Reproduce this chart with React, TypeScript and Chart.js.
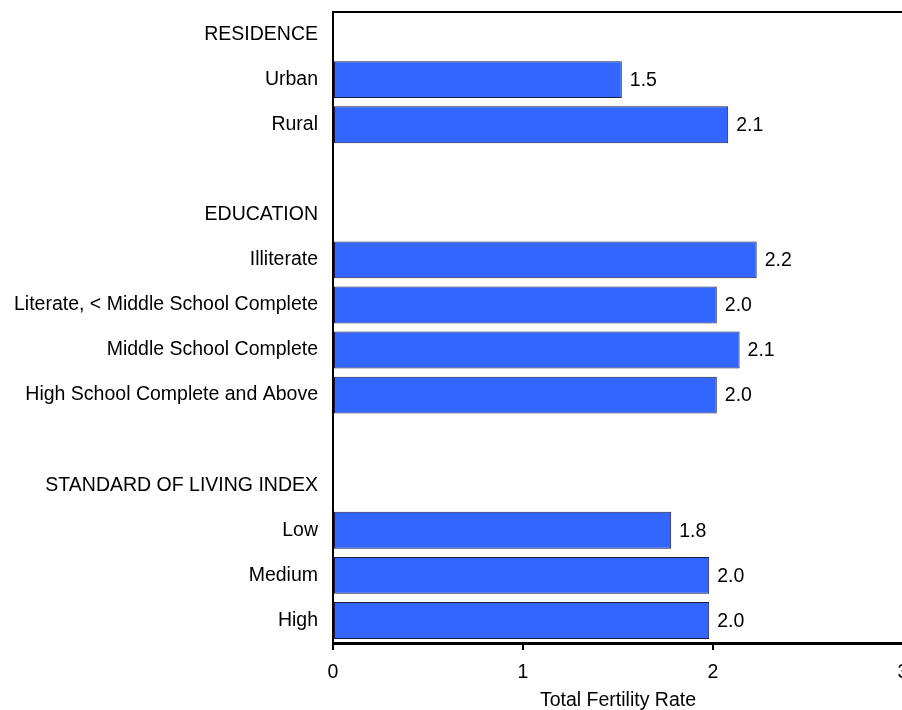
import React, { useEffect, useRef } from 'react';
import { Chart, registerables } from 'chart.js';

Chart.register(...registerables);

const categories = [
  'RESIDENCE',
  'Urban',
  'Rural',
  '',
  'EDUCATION',
  'Illiterate',
  'Literate, < Middle School Complete',
  'Middle School Complete',
  'High School Complete and Above',
  '',
  'STANDARD OF LIVING INDEX',
  'Low',
  'Medium',
  'High',
];
const tfrValues: (number | null)[] = [null, 1.52, 2.08, null, null, 2.23, 2.02, 2.14, 2.02, null, null, 1.78, 1.98, 1.98];
const xTickValues = [0, 1, 2, 3];
const axisTitle = 'Total Fertility Rate';

const FONT = '"Liberation Sans", Arial, Helvetica, sans-serif';
const FS = 19.5;

const valueLabelPlugin = {
  id: 'valueLabels',
  afterDatasetsDraw(chart: any) {
    const ctx = chart.ctx;
    const meta = chart.getDatasetMeta(0);
    ctx.save();
    ctx.font = `${FS}px ${FONT}`;
    ctx.fillStyle = '#000';
    ctx.textAlign = 'left';
    ctx.textBaseline = 'middle';
    meta.data.forEach((bar: any, i: number) => {
      const v = tfrValues[i];
      if (v === null || v === undefined) return;
      ctx.fillText(v.toFixed(1), bar.x + 8, bar.y + 1);
    });
    ctx.restore();
  },
};

const topLinePlugin = {
  id: 'topLine',
  afterDraw(chart: any) {
    const { ctx, chartArea } = chart;
    ctx.save();
    ctx.strokeStyle = '#000';
    ctx.lineWidth = 2;
    ctx.beginPath();
    ctx.moveTo(chartArea.left - 1, chartArea.top);
    ctx.lineTo(chart.width, chartArea.top);
    ctx.stroke();
    ctx.restore();
  },
};

export default function App() {
  const canvasRef = useRef<HTMLCanvasElement | null>(null);

  useEffect(() => {
    if (!canvasRef.current) return;
    const chart = new Chart(canvasRef.current, {
      type: 'bar',
      data: {
        labels: categories,
        datasets: [
          {
            data: tfrValues as any,
            backgroundColor: '#3366ff',
            borderColor: '#1c1c40',
            borderWidth: 1,
            borderSkipped: false,
            barPercentage: 0.82,
            categoryPercentage: 1,
          },
        ],
      },
      options: {
        indexAxis: 'y',
        responsive: false,
        animation: false,
        layout: { padding: { top: 12, right: 17, left: 0, bottom: 0 } },
        plugins: {
          legend: { display: false },
          tooltip: { enabled: false },
        },
        scales: {
          x: {
            min: 0,
            max: 3,
            afterBuildTicks: (scale: any) => {
              scale.ticks = xTickValues.map((v) => ({ value: v }));
            },
            ticks: {
              color: '#000',
              font: { size: FS, family: FONT },
              padding: 11,
              autoSkip: false,
              maxRotation: 0,
            },
            grid: {
              drawOnChartArea: false,
              drawTicks: true,
              tickLength: 7,
              color: '#000',
              lineWidth: 2,
            },
            border: { display: true, color: '#000', width: 3 },
            title: {
              display: true,
              text: axisTitle,
              color: '#000',
              font: { size: FS, family: FONT },
              padding: { top: 4, bottom: -2 },
            },
            afterFit: (scale: any) => {
              scale.height = 67;
              scale.paddingLeft = 0;
              scale.paddingRight = 0;
            },
          },
          y: {
            ticks: {
              color: '#000',
              font: { size: FS, family: FONT },
              padding: 15,
              autoSkip: false,
            },
            grid: { display: false, drawTicks: false },
            border: { display: true, color: '#000', width: 2 },
            afterFit: (scale: any) => {
              scale.width = 333;
              scale.paddingTop = 0;
              scale.paddingBottom = 0;
            },
          },
        },
      },
      plugins: [valueLabelPlugin, topLinePlugin],
    });
    return () => chart.destroy();
  }, []);

  return (
    <div
      style={{
        position: 'fixed',
        left: 0,
        top: 0,
        width: 902,
        height: 710,
        overflow: 'hidden',
        background: '#fff',
      }}
    >
      <canvas ref={canvasRef} width={920} height={710} style={{ display: 'block', width: 920, height: 710 }} />
    </div>
  );
}
